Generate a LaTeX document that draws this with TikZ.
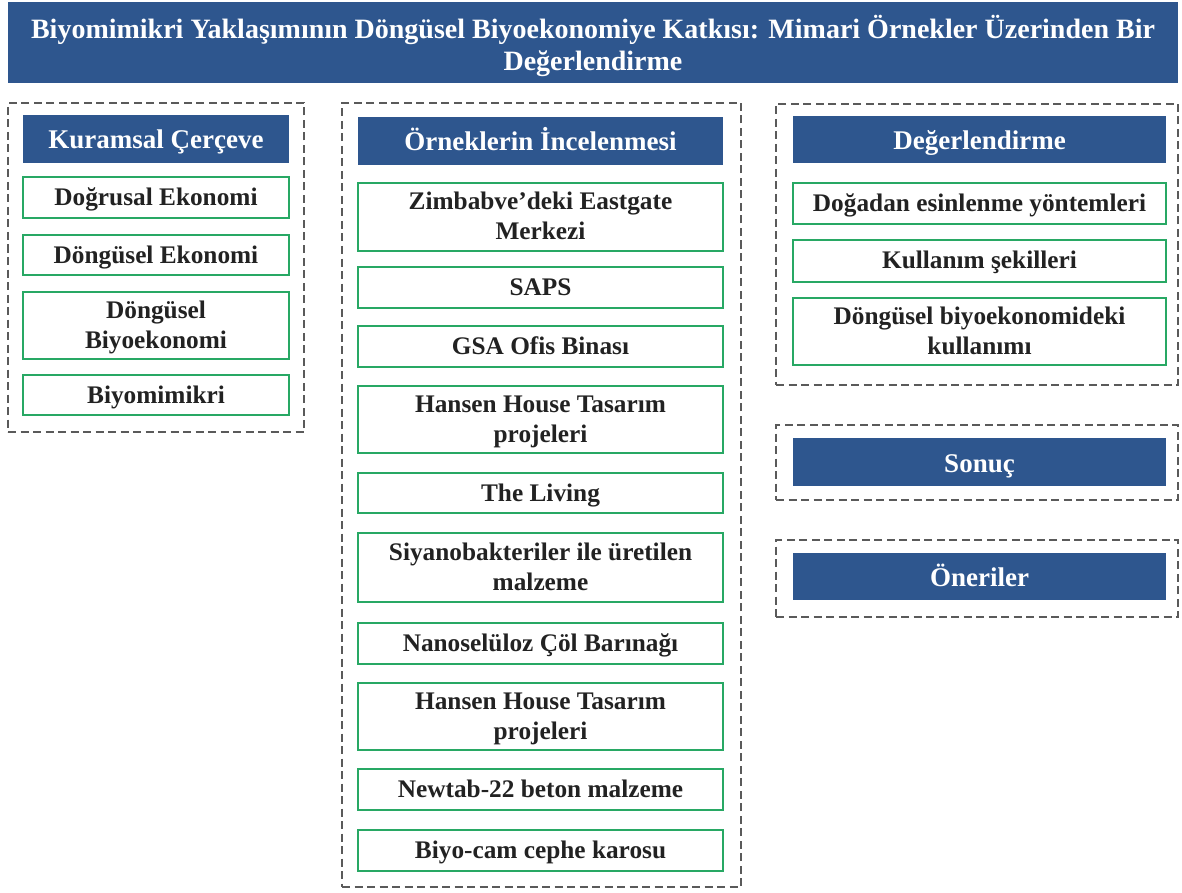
\documentclass[tikz,border=0pt]{standalone}
\usepackage{fontspec}
\setmainfont{Liberation Serif}
\definecolor{hdrblue}{RGB}{46,86,142}
\definecolor{itemgreen}{RGB}{40,168,100}
\definecolor{dashgray}{RGB}{90,90,90}
\definecolor{itemtext}{RGB}{34,34,34}
% invisible struts that put the cap-height centre on the box centre
\newcommand\itop{\rule{0pt}{26pt}}
\newcommand\ibot{\rule[-10pt]{0pt}{10pt}}
\newcommand\ione{\rule[-12pt]{0pt}{40pt}}
\newcommand\hone{\rule[-10pt]{0pt}{40pt}}
\begin{document}
\begin{tikzpicture}[x=1pt,y=-1pt,
  titlebox/.style={rectangle, fill=hdrblue, draw=none, text=white, inner sep=0pt, align=center,
    font=\fontsize{28}{32}\selectfont\bfseries},
  hdrbox/.style={rectangle, fill=hdrblue, draw=none, text=white, inner sep=0pt, align=center,
    font=\fontsize{27}{31}\selectfont\bfseries},
  itembox/.style={rectangle, fill=white, draw=itemgreen, line width=2.5pt, text=itemtext, inner sep=0pt, align=center,
    font=\fontsize{25.3}{30}\selectfont\bfseries},
  groupbox/.style={rectangle, draw=dashgray, line width=2.2pt, dash pattern=on 8pt off 4.5pt, inner sep=0pt}]
\useasboundingbox (0,0) rectangle (1182,893);

% title
\node[titlebox, minimum width=1170pt, minimum height=81pt] (title) at (593,42.5)
  {\rule{0pt}{35pt}Biyomimikri Yaklaşımının Döngüsel Biyoekonomiye Katkısı: Mimari Örnekler Üzerinden Bir\\\rule[-10pt]{0pt}{10pt}Değerlendirme};

% left group
\node[groupbox, minimum width=296pt, minimum height=329pt] (gleft) at (156,267.5) {};
\node[hdrbox, minimum width=266pt, minimum height=48pt] (hleft) at (156,139) {\hone Kuramsal Çerçeve};
\node[itembox, minimum width=266pt, minimum height=41pt] (l1) at (156,197.5) {\ione Doğrusal Ekonomi};
\node[itembox, minimum width=266pt, minimum height=40pt] (l2) at (156,255) {\ione Döngüsel Ekonomi};
\node[itembox, minimum width=266pt, minimum height=67pt] (l3) at (156,325.5) {\itop Döngüsel\\\ibot Biyoekonomi};
\node[itembox, minimum width=266pt, minimum height=40pt] (l4) at (156,395) {\ione Biyomimikri};

% middle group
\node[groupbox, minimum width=399pt, minimum height=784pt] (gmid) at (541.5,495) {};
\node[hdrbox, minimum width=365pt, minimum height=48pt] (hmid) at (540.5,141) {\hone Örneklerin İncelenmesi};
\node[itembox, minimum width=365pt, minimum height=68pt] (m1) at (540.5,217) {\itop Zimbabve'deki Eastgate\\\ibot Merkezi};
\node[itembox, minimum width=365pt, minimum height=41pt] (m2) at (540.5,287.5) {\ione SAPS};
\node[itembox, minimum width=365pt, minimum height=41pt] (m3) at (540.5,346.5) {\ione GSA Ofis Binası};
\node[itembox, minimum width=365pt, minimum height=67pt] (m4) at (540.5,419.5) {\itop Hansen House Tasarım\\\ibot projeleri};
\node[itembox, minimum width=365pt, minimum height=40pt] (m5) at (540.5,493) {\ione The Living};
\node[itembox, minimum width=365pt, minimum height=69pt] (m6) at (540.5,567.5) {\itop Siyanobakteriler ile üretilen\\\ibot malzeme};
\node[itembox, minimum width=365pt, minimum height=41pt] (m7) at (540.5,643.5) {\ione Nanoselüloz Çöl Barınağı};
\node[itembox, minimum width=365pt, minimum height=67pt] (m8) at (540.5,716.5) {\itop Hansen House Tasarım\\\ibot projeleri};
\node[itembox, minimum width=365pt, minimum height=41pt] (m9) at (540.5,789.5) {\ione Newtab-22 beton malzeme};
\node[itembox, minimum width=365pt, minimum height=41pt] (m10) at (540.5,850.5) {\ione Biyo-cam cephe karosu};

% right group
\node[groupbox, minimum width=402pt, minimum height=281pt] (gright) at (977,244.5) {};
\node[hdrbox, minimum width=373pt, minimum height=47pt] (hright) at (979.5,139.5) {\hone Değerlendirme};
\node[itembox, minimum width=373pt, minimum height=41pt] (r1) at (979.5,203.5) {\ione Doğadan esinlenme yöntemleri};
\node[itembox, minimum width=373pt, minimum height=42pt] (r2) at (979.5,261) {\ione Kullanım şekilleri};
\node[itembox, minimum width=373pt, minimum height=67pt] (r3) at (979.5,331.5) {\itop Döngüsel biyoekonomideki\\\ibot kullanımı};

% Sonuç
\node[groupbox, minimum width=402pt, minimum height=75pt] (gson) at (977,462.5) {};
\node[hdrbox, minimum width=373pt, minimum height=48pt] (hson) at (979.5,462) {\hone Sonuç};

% Öneriler
\node[groupbox, minimum width=402pt, minimum height=77pt] (goner) at (977,578.5) {};
\node[hdrbox, minimum width=373pt, minimum height=47pt] (honer) at (979.5,576.5) {\hone Öneriler};
\end{tikzpicture}
\end{document}
